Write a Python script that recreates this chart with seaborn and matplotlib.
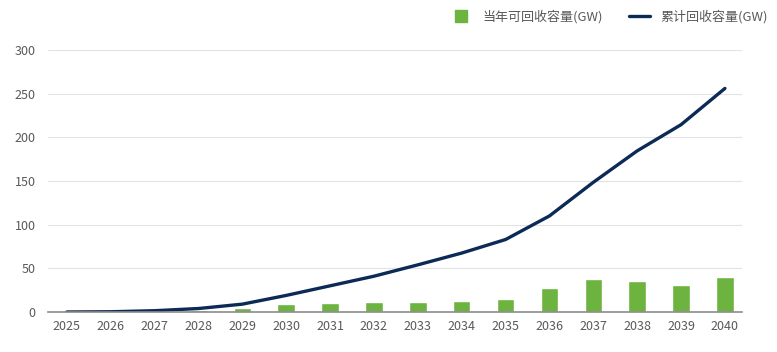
import matplotlib
matplotlib.use("Agg")
import matplotlib.pyplot as plt
from matplotlib.lines import Line2D
import seaborn as sns
import pandas as pd

years = [2025, 2026, 2027, 2028, 2029, 2030, 2031, 2032, 2033, 2034, 2035, 2036, 2037, 2038, 2039, 2040]
annual = [0.1, 0.3, 1.0, 2.5, 5.0, 9.0, 10.0, 11.0, 12.0, 13.0, 15.0, 27.0, 38.0, 35.5, 30.5, 40.5]
cumulative = [0.0, 0.3, 1.5, 4.0, 9.0, 19.0, 30.0, 41.0, 54.0, 67.5, 83.0, 110.0, 148.5, 184.5, 214.5, 256.0]
yticks = [0, 50, 100, 150, 200, 250, 300]
label_bar = "当年可回收容量(GW)"
label_line = "累计回收容量(GW)"

bar_color = "#6db33f"
line_color = "#0c2a56"
text_color = "#595959"

sns.set_theme(style="white")
plt.rcParams["font.family"] = ["Noto Sans CJK SC", "DejaVu Sans"]

df = pd.DataFrame({"year": years, "annual": annual, "cumulative": cumulative})

fig = plt.figure(figsize=(7.77, 3.52), dpi=100)
ax = fig.add_axes([0.0618, 0.1136, 0.8932, 0.7444])

sns.barplot(data=df, x="year", y="annual", native_scale=True, width=0.4,
            color=bar_color, saturation=1, ax=ax, zorder=3)
sns.lineplot(data=df, x="year", y="cumulative", color=line_color, linewidth=2.4,
             ax=ax, zorder=4)

ax.set_ylim(0, 300)
ax.set_xlim(years[0] - 0.43, years[-1] + 0.39)
ax.set_yticks(yticks)
ax.set_xticks(years)
ax.set_xticklabels([str(y) for y in years])
ax.set_xlabel("")
ax.set_ylabel("")
for y in yticks[1:]:
    ax.axhline(y, color="#e3e3e3", linewidth=0.8, zorder=1)
for s in ["top", "right", "left"]:
    ax.spines[s].set_visible(False)
ax.spines["bottom"].set_color("#8c8c8c")
ax.spines["bottom"].set_linewidth(1.2)
ax.spines["bottom"].set_zorder(5)
ax.tick_params(axis="both", length=0, labelsize=9, colors=text_color)
ax.tick_params(axis="y", pad=9)
ax.tick_params(axis="x", pad=6)

handles = [
    Line2D([0], [0], marker="s", color="none", markerfacecolor=bar_color,
           markeredgecolor=bar_color, markersize=8),
    Line2D([0], [0], color=line_color, linewidth=2.4),
]
fig.legend(handles, [label_bar, label_line], loc="center right",
           bbox_to_anchor=(1.003, 0.952), ncol=2, frameon=False,
           fontsize=9.4, labelcolor=text_color, handlelength=1.6,
           columnspacing=2.0, handletextpad=0.8)

fig.savefig("out.png", dpi=100, facecolor="white")
